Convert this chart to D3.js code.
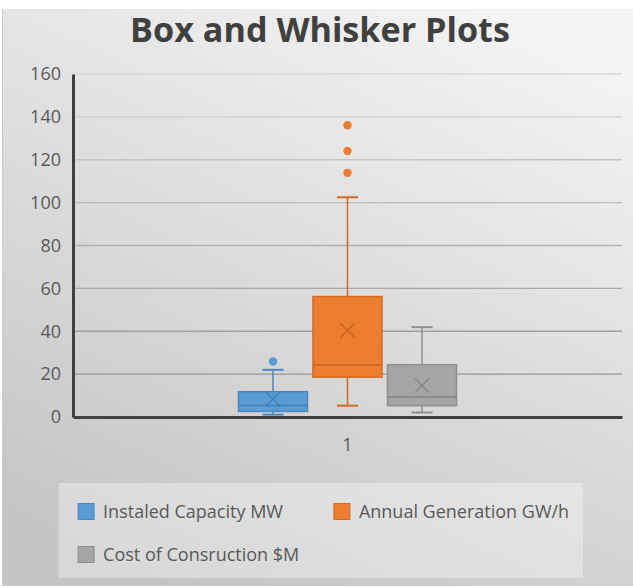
<!DOCTYPE html>
<html><head><meta charset="utf-8">
<script src="https://cdn.jsdelivr.net/npm/d3@7"></script>
<style>body{margin:0;background:#fff}svg{display:block}text{font-family:"Open Sans",sans-serif}</style>
</head><body><svg id="c" width="633" height="587"></svg>
<script>
const categories = ["1"];
const seriesNames = ["Instaled Capacity MW","Annual Generation GW/h","Cost of Consruction $M"];
const whiskerLow  = [1.1, 5.3, 2.1];
const q1          = [2.6, 18.6, 5.3];
const median      = [5.4, 24.2, 9.3];
const q3          = [11.8, 56.2, 24.4];
const whiskerHigh = [22.0, 102.5, 41.9];
const mean        = [8.4, 40.4, 14.7];
const outliers    = [[25.9], [113.9, 124.1, 136.1], []];
const yTicks      = [0,20,40,60,80,100,120,140,160];
const fills   = ["#5b9bd5","#ed7d31","#a5a5a5"];
const strokes = ["#4a88c4","#d46a22","#8e8e8e"];
const darks   = ["#2f6ba3","#b45410","#6e6e6e"];

const svg = d3.select("#c");
const defs = svg.append("defs");
const g = defs.append("linearGradient").attr("id","bg").attr("x1","0.75").attr("y1","0").attr("x2","0.25").attr("y2","1");
g.append("stop").attr("offset","0").attr("stop-color","#f3f3f3");
g.append("stop").attr("offset","1").attr("stop-color","#c4c4c4");
svg.append("rect").attr("x",2).attr("y",9).attr("width",631).attr("height",577).attr("fill","url(#bg)");
svg.append("line").attr("x1",2.5).attr("x2",2.5).attr("y1",9).attr("y2",586).attr("stroke","#cccccc").attr("stroke-width",1);

const y = d3.scaleLinear().domain([0,160]).range([417,74]);
const x = d3.scaleBand().domain(categories).range([73,622]).paddingInner(0).paddingOuter(0.759);
const xs = d3.scaleBand().domain(d3.range(seriesNames.length)).range([0,x.bandwidth()]).paddingInner(0.074).paddingOuter(0);

// gridlines
const grid = d3.interpolateRgb("#8c8c8c","#d8d8d8");
svg.append("g").selectAll("line").data(yTicks.filter(d=>d>0)).join("line")
  .attr("x1",73).attr("x2",622).attr("y1",d=>y(d)).attr("y2",d=>y(d))
  .attr("stroke",d=>grid(d/160)).attr("stroke-width",1.3);

// y axis
const yAxis = svg.append("g").attr("transform","translate(73,0)")
  .call(d3.axisLeft(y).tickValues(yTicks).tickSize(0).tickPadding(12));
yAxis.select(".domain").attr("stroke","#404040").attr("stroke-width",3);
yAxis.selectAll("text").attr("fill","#595959").style("font-size","18px").style("font-family","'Open Sans',sans-serif");

// x axis
const xAxis = svg.append("g").attr("transform","translate(0,417)")
  .call(d3.axisBottom(x).tickSize(0).tickPadding(21));
xAxis.select(".domain").attr("stroke","#404040").attr("stroke-width",3);
xAxis.selectAll("text").attr("fill","#595959").style("font-size","18px").style("font-family","'Open Sans',sans-serif");

// boxes
const idx = d3.range(seriesNames.length);
const boxes = svg.append("g");
idx.forEach(i=>{
  const x0 = x(categories[0]) + xs(i), w = xs.bandwidth(), cx = x0 + w/2, cap = 21;
  const gg = boxes.append("g");
  gg.append("line").attr("x1",cx).attr("x2",cx).attr("y1",y(q3[i])).attr("y2",y(whiskerHigh[i])).attr("stroke",strokes[i]).attr("stroke-width",1.5);
  gg.append("line").attr("x1",cx).attr("x2",cx).attr("y1",y(q1[i])).attr("y2",y(whiskerLow[i])).attr("stroke",strokes[i]).attr("stroke-width",1.5);
  gg.append("line").attr("x1",cx-cap/2).attr("x2",cx+cap/2).attr("y1",y(whiskerHigh[i])).attr("y2",y(whiskerHigh[i])).attr("stroke",strokes[i]).attr("stroke-width",2);
  gg.append("line").attr("x1",cx-cap/2).attr("x2",cx+cap/2).attr("y1",y(whiskerLow[i])).attr("y2",y(whiskerLow[i])).attr("stroke",strokes[i]).attr("stroke-width",2);
  gg.append("rect").attr("x",x0).attr("y",y(q3[i])).attr("width",w).attr("height",y(q1[i])-y(q3[i]))
    .attr("fill",fills[i]).attr("stroke",strokes[i]).attr("stroke-width",1.5);
  gg.append("line").attr("x1",x0).attr("x2",x0+w).attr("y1",y(median[i])).attr("y2",y(median[i])).attr("stroke",darks[i]).attr("stroke-opacity",0.6).attr("stroke-width",1.5);
  const my = y(mean[i]), s = 7;
  gg.append("path").attr("d",`M${cx-s},${my-s}L${cx+s},${my+s}M${cx-s},${my+s}L${cx+s},${my-s}`)
    .attr("stroke",darks[i]).attr("stroke-opacity",0.55).attr("stroke-width",1.5).attr("fill","none");
  gg.selectAll("circle").data(outliers[i]).join("circle").attr("cx",cx).attr("cy",d=>y(d)).attr("r",4.2).attr("fill",fills[i]);
});

// title
const title = svg.append("text").attr("x",320).attr("y",42).attr("text-anchor","middle")
  .attr("fill","#404040").style("font-weight","bold").style("font-size","30px").text("Box and Whisker Plots");
const tw = title.node().getComputedTextLength();
title.style("font-size",(30*380/tw).toFixed(2)+"px");

// legend
svg.append("rect").attr("x",58.5).attr("y",483).attr("width",524.5).attr("height",95).attr("fill","#ffffff").attr("fill-opacity",0.35);
const legPos = [[77.6,503],[333.4,503],[77.6,546]];
idx.forEach(i=>{
  const [lx,ly] = legPos[i];
  svg.append("rect").attr("x",lx+0.5).attr("y",ly+0.5).attr("width",16).attr("height",16).attr("fill",fills[i]).attr("stroke",strokes[i]).attr("stroke-width",1);
  svg.append("text").attr("x",lx+25.5).attr("y",ly+15).attr("fill","#595959").style("font-size","18px").text(seriesNames[i]);
});
</script></body></html>
